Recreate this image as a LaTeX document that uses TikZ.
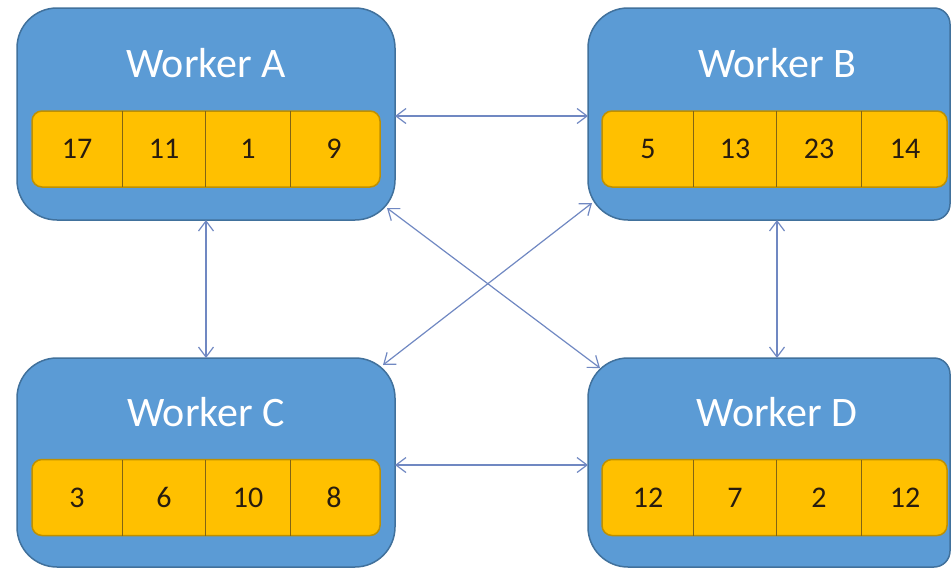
\documentclass[tikz,border=0pt]{standalone}
\usepackage{fontspec}
\setmainfont{Carlito}
\usepackage{xcolor}
\usetikzlibrary{arrows.meta,calc}

\definecolor{workerfill}{RGB}{91,155,213}
\definecolor{workerline}{RGB}{65,113,156}
\definecolor{cellfill}{RGB}{255,192,0}
\definecolor{cellline}{RGB}{191,144,0}
\definecolor{cellsep}{RGB}{130,100,20}
\definecolor{numcol}{RGB}{40,28,15}
\definecolor{linkcol}{RGB}{112,136,194}

\tikzset{
  worker/.style={inner sep=0, outer sep=0},
  workerbox/.style={draw=workerline, line width=1.5, fill=workerfill},
  workertitle/.style={text=white, inner sep=0, font=\fontsize{42}{50}\selectfont},
  cellbar/.style={draw=cellline, line width=1.5, fill=cellfill, rounded corners=10,
    minimum height=76, inner sep=0},
  cellsep/.style={draw=cellsep, line width=0.8},
  cellnum/.style={inner sep=0, text=numcol, font=\fontsize{30}{36}\selectfont},
  link/.style={draw=linkcol, line width=1.2,
    {Straight Barb[length=10pt,width=15pt]}-{Straight Barb[length=10pt,width=15pt]}}
}

\begin{document}
\begin{tikzpicture}[x=1pt,y=1pt,yscale=-1,xscale=1]
\useasboundingbox (0,0) rectangle (951,568);

% Workers: name / centre / size / right corner / text centre / bar / cells
\foreach \n/\cx/\cy/\w/\h/\rr/\tx/\bx/\bw/\p/\q/\r/\s in {
    A/206/114/378/212/40/206/206/348/17/11/1/9,
    B/769/114/362/212/16/777/774.5/345/5/13/23/14,
    C/206/462.5/378/209/40/206/206/348/3/6/10/8,
    D/769/462.5/362/209/16/777/774.5/345/12/7/2/12}{
  \node[worker, minimum width=\w, minimum height=\h] (\n) at (\cx,\cy) {};
  \filldraw[workerbox] (\n.north) [rounded corners=\rr] -| (\n.east) |- (\n.south)
    [rounded corners=40] -| (\n.west) |- ($(\n.north)+(-1,0)$) -- cycle;
  % Text Node
  \node[workertitle] (\n-title) at (\tx,\cy-50.5) {Worker \n};
  \node[cellbar, minimum width=\bw] (\n-bar) at (\bx,\cy+35) {};
  \foreach \dx in {-84,-1,84}
    \draw[cellsep] (\tx+\dx,\cy-3) -- (\tx+\dx,\cy+73);
  % Text Node
  \node[cellnum] (\n-1) at (\tx-129,\cy+35) {\p};
  \node[cellnum] (\n-2) at (\tx-42,\cy+35) {\q};
  \node[cellnum] (\n-3) at (\tx+42,\cy+35) {\r};
  \node[cellnum] (\n-4) at (\tx+128,\cy+35) {\s};
}

%Straight Lines
\draw[link] ($(A.east)+(0,2)$) -- ($(B.west)+(0,2)$);
\draw[link] ($(C.east)+(0,2.5)$) -- ($(D.west)+(0,2.5)$);
\draw[link] (A.south) -- (C.north);
\draw[link] ($(B.south)+(8,0)$) -- ($(D.north)+(8,0)$);
\draw[link] ($(A.south east)+(-8,-12)$) -- ($(D.north west)+(12,10)$);
\draw[link] ($(B.south west)+(4,-17)$) -- ($(C.north east)+(-12,7)$);

\end{tikzpicture}
\end{document}
